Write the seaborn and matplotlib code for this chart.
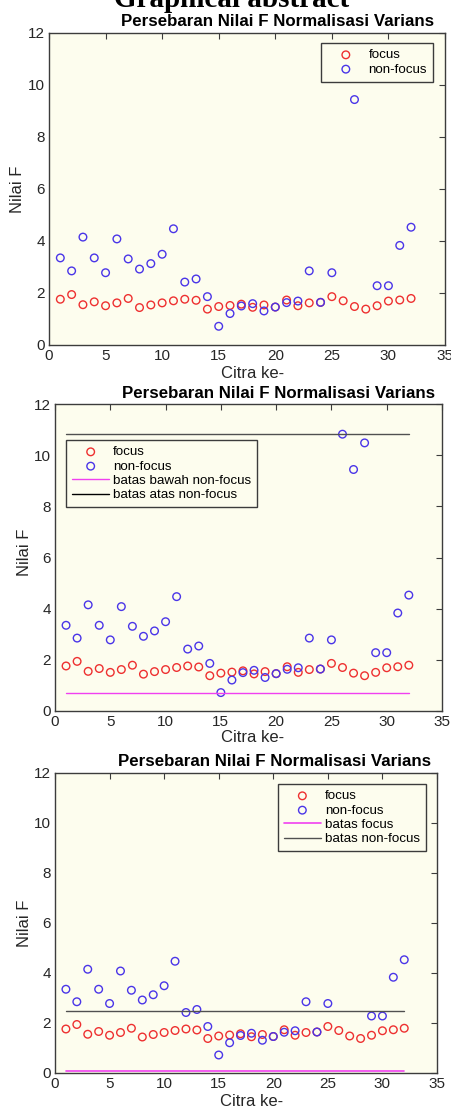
import matplotlib
matplotlib.use("Agg")
import matplotlib.pyplot as plt
import seaborn as sns
import numpy as np

sns.set_style("white")
plt.rcParams['font.family'] = ['Liberation Sans', 'DejaVu Sans']

# ---- data ----
citra = list(range(1, 33))
focus = [1.76, 1.94, 1.55, 1.66, 1.51, 1.62, 1.79, 1.44, 1.54, 1.62, 1.70, 1.76,
         1.72, 1.38, 1.48, 1.52, 1.57, 1.45, 1.54, 1.46, 1.73, 1.51, 1.62, 1.64,
         1.86, 1.70, 1.48, 1.38, 1.51, 1.69, 1.73, 1.79]
non_focus = [3.35, 2.85, 4.15, 3.35, 2.78, 4.08, 3.31, 2.92, 3.13, 3.49, 4.47, 2.42,
             2.54, 1.86, 0.72, 1.21, 1.50, 1.59, 1.31, 1.46, 1.63, 1.69, 2.85, 1.64,
             2.78, 10.82, 9.44, 10.48, 2.28, 2.28, 3.83, 4.53]
line_x = [1, 32]
batas_bawah_nonfocus = [0.70, 0.70]
batas_atas_nonfocus = [10.82, 10.82]
batas_focus = [0.10, 0.10]
batas_nonfocus = [2.47, 2.47]
xticks = [0, 5, 10, 15, 20, 25, 30, 35]
yticks = [0, 2, 4, 6, 8, 10, 12]
title = "Persebaran Nilai F Normalisasi Varians"

W, H = 452, 1108
fig = plt.figure(figsize=(W / 100, H / 100), dpi=100)
fig.patch.set_facecolor("white")

AX_BG = "#fdfdee"
RED = "#ee3030"
BLUE = "#4a35e8"
MAG = "#f040f0"
DARK = "#3c3c3c"
TXT = "#262626"
MS = 30


def px_axes(l, r, t, b):
    return fig.add_axes([l / W, 1 - b / H, (r - l) / W, (b - t) / H])


def style(ax):
    ax.set_facecolor(AX_BG)
    ax.set_xlim(0, 35)
    ax.set_ylim(0, 12)
    ax.set_xticks(xticks)
    ax.set_yticks(yticks)
    ax.tick_params(direction="in", length=4, width=0.8, top=True, right=True,
                   labelsize=11, colors=DARK, labelcolor=TXT, pad=3)
    for s in ax.spines.values():
        s.set_color(DARK)
        s.set_linewidth(1.0)
        s.set_visible(True)
    ax.set_xlabel("")
    ax.set_ylabel("")


def scatter(ax):
    sns.scatterplot(x=citra, y=focus, ax=ax, marker="o", s=MS,
                    facecolor="none", edgecolor=RED, linewidth=1.0, label="focus")
    sns.scatterplot(x=citra, y=non_focus, ax=ax, marker="o", s=MS,
                    facecolor="none", edgecolor=BLUE, linewidth=1.0, label="non-focus")


def legend(ax, **kw):
    lg = ax.legend(fontsize=9.6, frameon=True, fancybox=False, borderpad=0.45,
                   labelspacing=0.15, handlelength=2.8, handletextpad=0.3,
                   borderaxespad=0.0, **kw)
    fr = lg.get_frame()
    fr.set_facecolor(AX_BG)
    fr.set_edgecolor(DARK)
    fr.set_linewidth(1.0)
    fr.set_alpha(1.0)
    for t in lg.get_texts():
        t.set_color("black")
    return lg


# Panel 1
ax1 = px_axes(49, 445, 33, 345)
scatter(ax1)
style(ax1)
legend(ax1, loc="upper right", bbox_to_anchor=(433 / W, 1 - 43 / H),
       bbox_transform=fig.transFigure)

# Panel 2
ax2 = px_axes(55, 442, 404, 711)
scatter(ax2)
sns.lineplot(x=line_x, y=batas_bawah_nonfocus, ax=ax2, color=MAG, linewidth=1.0,
             label="batas bawah non-focus")
sns.lineplot(x=line_x, y=batas_atas_nonfocus, ax=ax2, color="#505050", linewidth=1.0,
             label="batas atas non-focus")
style(ax2)
lg2 = legend(ax2, loc="upper left", bbox_to_anchor=(66 / W, 1 - 440 / H),
             bbox_transform=fig.transFigure)
for h in lg2.legend_handles:
    if h.get_label() == "batas atas non-focus":
        h.set_color("black")

# Panel 3
ax3 = px_axes(55, 437, 773, 1073)
scatter(ax3)
sns.lineplot(x=line_x, y=batas_focus, ax=ax3, color=MAG, linewidth=1.2,
             label="batas focus")
sns.lineplot(x=line_x, y=batas_nonfocus, ax=ax3, color="#505050", linewidth=1.0,
             label="batas non-focus")
style(ax3)
legend(ax3, loc="upper right", bbox_to_anchor=(426 / W, 1 - 784 / H),
       bbox_transform=fig.transFigure)

# Titles and labels
for (cx, cy) in [(278, 21), (279, 394), (275, 761)]:
    fig.text(cx / W, 1 - cy / H, title, ha="center", va="center",
             fontsize=12.2, fontweight="bold", color="black")
for (cx, cy) in [(18, 189), (25, 552), (25, 923)]:
    fig.text(cx / W, 1 - cy / H, "Nilai F", ha="center", va="center",
             rotation=90, fontsize=12, color=TXT)
for (cx, cy) in [(253, 374), (253, 738), (252, 1102)]:
    fig.text(cx / W, 1 - cy / H, "Citra ke-", ha="center", va="center",
             fontsize=12, color=TXT)

fig.text(232 / W, 1 - 7 / H, "Graphical abstract", ha="center", va="baseline",
         fontsize=21, fontweight="bold", family=["Liberation Serif", "DejaVu Serif"],
         color="black")

fig.savefig("out.png", dpi=100, facecolor="white")
